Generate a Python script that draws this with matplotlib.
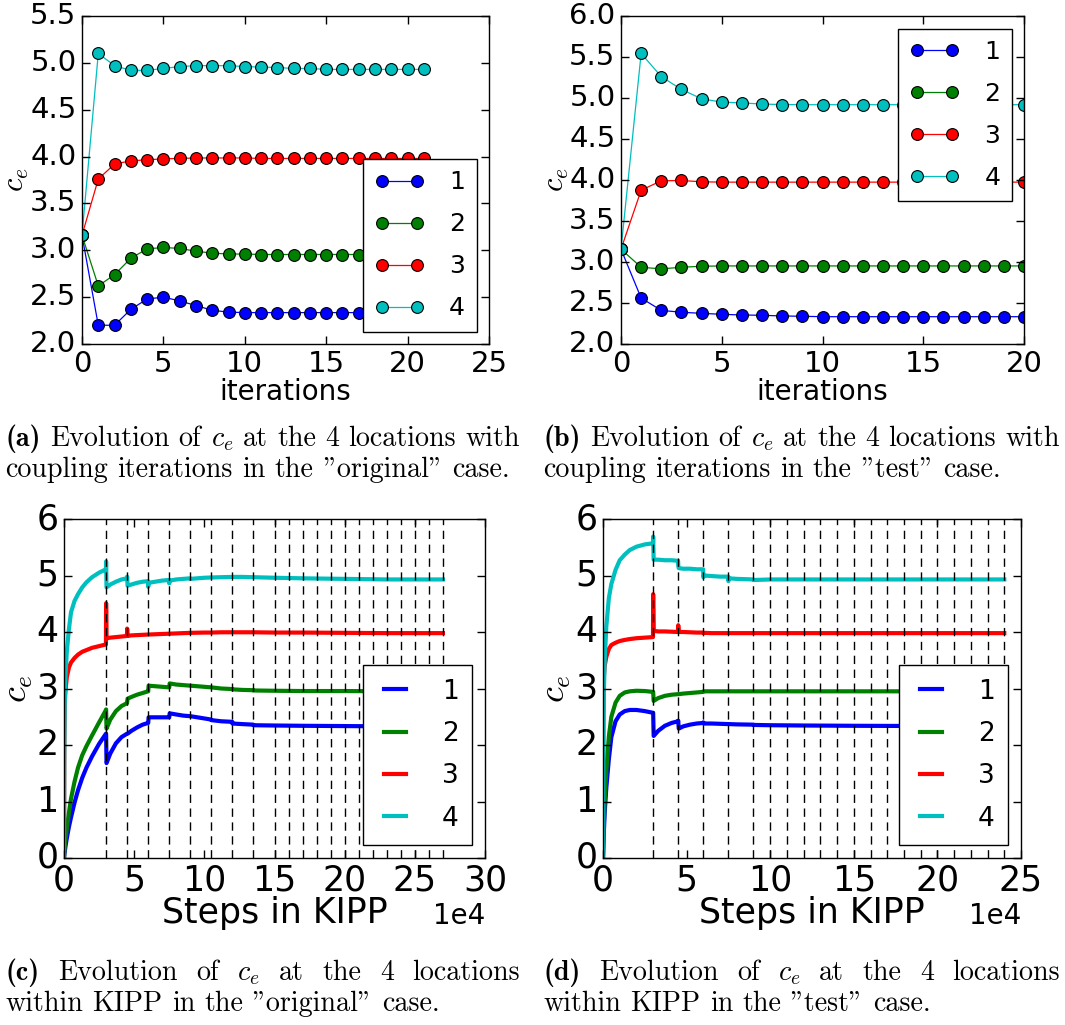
import matplotlib
matplotlib.use('Agg')
import matplotlib.pyplot as plt

plt.style.use('classic')
plt.rcParams['mathtext.fontset'] = 'cm'
plt.rcParams['savefig.facecolor'] = 'white'

W, H = 1065, 1025

labels = ['1', '2', '3', '4']
colors = ['b', 'g', 'r', 'c']

# --- coupling iterations, "original" case (a)
iters_orig = list(range(22))
orig_1 = [3.16, 2.20, 2.20, 2.37, 2.48, 2.50, 2.46, 2.41, 2.36, 2.34, 2.335, 2.335,
          2.335, 2.335, 2.335, 2.335, 2.335, 2.335, 2.33, 2.33, 2.33, 2.33]
orig_2 = [3.16, 2.62, 2.74, 2.915, 3.015, 3.03, 3.02, 2.99, 2.97, 2.96, 2.96, 2.955,
          2.955, 2.955, 2.955, 2.955, 2.955, 2.955, 2.95, 2.95, 2.95, 2.95]
orig_3 = [3.16, 3.76, 3.92, 3.955, 3.965, 3.976, 3.98, 3.985, 3.985, 3.985, 3.985, 3.98,
          3.98, 3.98, 3.98, 3.98, 3.98, 3.98, 3.98, 3.98, 3.98, 3.98]
orig_4 = [3.16, 5.10, 4.97, 4.92, 4.92, 4.94, 4.96, 4.97, 4.97, 4.97, 4.96, 4.955,
          4.95, 4.94, 4.94, 4.93, 4.93, 4.93, 4.93, 4.93, 4.93, 4.93]

# --- coupling iterations, "test" case (b)
iters_test = list(range(21))
test_1 = [3.156, 2.56, 2.41, 2.387, 2.374, 2.362, 2.354, 2.35, 2.342, 2.338, 2.333,
          2.333, 2.333, 2.333, 2.333, 2.333, 2.333, 2.333, 2.333, 2.333, 2.333]
test_2 = [3.156, 2.936, 2.916, 2.936, 2.948, 2.952, 2.952, 2.952, 2.952, 2.952, 2.952,
          2.952, 2.952, 2.952, 2.952, 2.952, 2.952, 2.952, 2.952, 2.952, 2.952]
test_3 = [3.156, 3.876, 3.99, 3.994, 3.978, 3.974, 3.974, 3.974, 3.974, 3.974, 3.974,
          3.974, 3.974, 3.974, 3.974, 3.974, 3.974, 3.974, 3.974, 3.974, 3.974]
test_4 = [3.156, 5.544, 5.26, 5.105, 4.99, 4.95, 4.94, 4.926, 4.92, 4.918, 4.918,
          4.918, 4.918, 4.918, 4.918, 4.918, 4.918, 4.918, 4.918, 4.918, 4.918]

# --- within KIPP, "original" case (c)
kipp_steps_orig = [0, 200, 500, 1000, 2000, 3500, 5000, 7500, 10000, 13000, 16000, 20000,
                   25000, 29900, 30000, 30300, 33000, 37000, 41000, 44900, 45000, 45300,
                   48000, 52000, 56000, 59900, 60000, 60300, 65000, 70000, 74900, 75000,
                   75300, 80000, 85000, 89900, 90000, 100000, 104900, 105000, 112000,
                   119900, 120000, 127000, 134900, 135000, 150000, 170000, 200000,
                   230000, 270000]
kipp_orig_1 = [0, 0.05, 0.1, 0.2, 0.35, 0.55, 0.72, 0.98, 1.2, 1.42, 1.6, 1.8,
               2.02, 2.2, 2.2, 1.68, 1.85, 2.03, 2.14, 2.2, 2.2, 2.2,
               2.25, 2.31, 2.36, 2.39, 2.39, 2.49, 2.49, 2.49, 2.49, 2.49,
               2.56, 2.54, 2.52, 2.51, 2.51, 2.47, 2.45, 2.44, 2.42,
               2.41, 2.38, 2.37, 2.36, 2.35, 2.345, 2.34, 2.335,
               2.33, 2.33]
kipp_orig_2 = [0, 0.1, 0.2, 0.32, 0.52, 0.8, 1.05, 1.35, 1.6, 1.82, 1.98, 2.17,
               2.4, 2.62, 2.63, 2.29, 2.45, 2.6, 2.69, 2.74, 2.76, 2.82,
               2.85, 2.89, 2.92, 2.95, 2.95, 3.05, 3.04, 3.03, 3.02, 3.02,
               3.09, 3.07, 3.06, 3.05, 3.05, 3.03, 3.02, 3.02, 3.0,
               2.99, 2.985, 2.975, 2.97, 2.965, 2.96, 2.955, 2.955,
               2.95, 2.95]
kipp_orig_3 = [0, 2.0, 2.75, 2.95, 3.2, 3.37, 3.46, 3.54, 3.6, 3.65, 3.68, 3.72,
               3.75, 3.78, 4.51, 3.89, 3.9, 3.91, 3.92, 3.93, 4.06, 3.93,
               3.94, 3.945, 3.95, 3.955, 3.955, 3.955, 3.96, 3.965, 3.97, 3.97,
               3.97, 3.975, 3.98, 3.985, 3.985, 3.99, 3.99, 3.99, 3.995,
               3.995, 3.995, 3.995, 3.995, 3.995, 3.99, 3.99, 3.985,
               3.98, 3.98]
kipp_orig_4 = [0, 1.8, 2.7, 3.2, 3.65, 4.05, 4.35, 4.55, 4.67, 4.79, 4.88, 4.97,
               5.05, 5.11, 5.25, 4.79, 4.84, 4.89, 4.93, 4.95, 4.98, 4.82,
               4.84, 4.87, 4.89, 4.9, 4.8, 4.87, 4.89, 4.91, 4.92, 4.86,
               4.91, 4.93, 4.94, 4.95, 4.94, 4.96, 4.965, 4.965, 4.97,
               4.975, 4.975, 4.975, 4.97, 4.97, 4.96, 4.95, 4.94,
               4.93, 4.93]
couplings_orig = [30000, 45000, 60000, 75000, 90000, 105000, 120000, 135000, 150000,
                  160000, 170000, 180000, 190000, 200000, 210000, 220000, 230000,
                  240000, 250000, 260000, 270000]

# --- within KIPP, "test" case (d)
kipp_steps_test = [0, 200, 500, 1000, 2000, 3500, 5000, 7500, 10000, 13000, 16000, 20000,
                   25000, 29900, 30000, 30300, 33000, 37000, 41000, 44900, 45000, 45300,
                   48000, 52000, 56000, 59900, 60000, 60300, 65000, 70000, 74900, 75000,
                   75300, 80000, 89900, 90000, 100000, 120000, 150000, 200000, 240000]
kipp_test_1 = [0, 0.2, 0.45, 0.8, 1.25, 1.75, 2.14, 2.42, 2.54, 2.6, 2.62, 2.62,
               2.6, 2.57, 2.57, 2.16, 2.25, 2.34, 2.39, 2.42, 2.43, 2.29,
               2.33, 2.36, 2.38, 2.39, 2.4, 2.38, 2.38, 2.375, 2.37, 2.37,
               2.37, 2.365, 2.36, 2.355, 2.35, 2.345, 2.34, 2.335, 2.33]
kipp_test_2 = [0, 0.25, 0.6, 1.0, 1.55, 2.15, 2.5, 2.75, 2.87, 2.93, 2.95, 2.96,
               2.955, 2.94, 2.94, 2.78, 2.83, 2.87, 2.89, 2.9, 2.9, 2.9,
               2.91, 2.92, 2.93, 2.94, 2.945, 2.95, 2.95, 2.95, 2.95, 2.95,
               2.95, 2.95, 2.95, 2.95, 2.95, 2.95, 2.95, 2.95, 2.95]
kipp_test_3 = [0, 2.5, 3.2, 3.4, 3.56, 3.7, 3.77, 3.81, 3.84, 3.86, 3.875, 3.89,
               3.9, 3.91, 4.67, 4.02, 4.01, 4.01, 4.005, 4.0, 4.12, 4.0,
               4.0, 3.995, 3.99, 3.99, 3.985, 3.985, 3.98, 3.98, 3.98, 3.98,
               3.98, 3.98, 3.98, 3.98, 3.98, 3.98, 3.98, 3.98, 3.98]
kipp_test_4 = [0, 2.0, 2.9, 3.5, 4.1, 4.6, 4.85, 5.1, 5.27, 5.37, 5.45, 5.51,
               5.55, 5.57, 5.69, 5.28, 5.28, 5.27, 5.27, 5.26, 5.18, 5.13,
               5.12, 5.12, 5.11, 5.11, 4.97, 5.0, 4.99, 4.98, 4.98, 4.9,
               4.95, 4.94, 4.93, 4.92, 4.93, 4.93, 4.93, 4.93, 4.93]
couplings_test = [30000, 45000, 60000, 75000, 90000, 100000, 110000, 120000, 130000,
                  140000, 150000, 160000, 170000, 180000, 190000, 200000, 210000,
                  220000, 230000, 240000]


def rect(l, t, r, b):
    return [l / W, 1 - b / H, (r - l) / W, (b - t) / H]


def style_axes(ax, tick_fs, pad):
    ax.tick_params(direction='in', length=6, width=1, labelsize=tick_fs, pad=pad)
    for s in ax.spines.values():
        s.set_linewidth(1)


fig = plt.figure(figsize=(W / 100, H / 100), dpi=100, facecolor='white')

# (a) and (b): coupling iterations
top = [
    (rect(82, 16, 489, 344), iters_orig, [orig_1, orig_2, orig_3, orig_4], 25, 5.5,
     'lower right', -0.125),
    (rect(621, 16, 1024, 344), iters_test, [test_1, test_2, test_3, test_4], 20, 6.0,
     'upper right', -0.125),
]
for r, xs, series, xmax, ymax, loc, ylx in top:
    ax = fig.add_axes(r)
    for ys, c, lab in zip(series, colors, labels):
        ax.plot(xs, ys, '-o', color=c, lw=0.9, ms=8.5, mec='k', mew=0.8, label=lab)
    ax.set_xlim(0, xmax)
    ax.set_ylim(2.0, ymax)
    ax.set_xticks(range(0, xmax + 1, 5))
    style_axes(ax, 21, 4)
    ax.set_xlabel('iterations', fontsize=20, labelpad=0)
    ax.set_ylabel(r'$c_e$', fontsize=22)
    ax.yaxis.set_label_coords(ylx, 0.5)
    ax.legend(loc=loc, fontsize=18, numpoints=2, handlelength=2.0, handletextpad=1.0,
              labelspacing=0.72, borderpad=0.45, fancybox=False)

# (c) and (d): within KIPP
bottom = [
    (rect(64, 519, 485, 858), kipp_steps_orig,
     [kipp_orig_1, kipp_orig_2, kipp_orig_3, kipp_orig_4], couplings_orig, 300000, -0.068),
    (rect(603, 519, 1021, 858), kipp_steps_test,
     [kipp_test_1, kipp_test_2, kipp_test_3, kipp_test_4], couplings_test, 250000, -0.072),
]
for r, xs, series, vlines, xmax, ylx in bottom:
    ax = fig.add_axes(r)
    for ys, c, lab in zip(series, colors, labels):
        ax.plot(xs, ys, '-', color=c, lw=3, label=lab)
    for v in vlines:
        ax.axvline(v, color='k', lw=1, ls=(0, (6, 4)))
    ax.set_xlim(0, xmax)
    ax.set_ylim(0, 6)
    ax.set_xticks(range(0, xmax + 1, 50000))
    ax.set_yticks(range(0, 7))
    ax.ticklabel_format(axis='x', style='sci', scilimits=(4, 4))
    style_axes(ax, 25, 4)
    ax.xaxis.get_offset_text().set_fontsize(20)
    ax.set_xlabel('Steps in KIPP', fontsize=25, labelpad=-1)
    ax.set_ylabel(r'$c_e$', fontsize=26)
    ax.yaxis.set_label_coords(ylx, 0.5)
    ax.legend(loc='lower right', fontsize=19, handlelength=1.45, handletextpad=1.05,
              labelspacing=0.62, borderpad=0.5, fancybox=False)

# captions, set word by word like LaTeX (first line justified)
renderer = fig.canvas.get_renderer()


def caption_line(words, x0, y, size, x1=None):
    arts = []
    for w in words:
        bold = w.startswith('(') and w.endswith(')') and len(w) == 3
        t = fig.text(0, 1 - y / H, w, fontsize=size, va='baseline', ha='left',
                     family='cmb10' if bold else 'cmr10')
        arts.append(t)
    widths = [a.get_window_extent(renderer).width for a in arts]
    space = 0.333 * size * 100 / 72
    natural = sum(widths) + space * (len(arts) - 1)
    gap = space
    if x1 is not None and len(arts) > 1:
        gap = max(space, (x1 - x0 - sum(widths)) / (len(arts) - 1))
    x = x0
    for a, wd in zip(arts, widths):
        a.set_x(x / W)
        x += wd + gap
    return arts, natural


captions = [
    (5, 520, 446, '(a) Evolution of $c_e$ at the 4 locations with',
     'coupling iterations in the "original" case.'),
    (543, 1060, 446, '(b) Evolution of $c_e$ at the 4 locations with',
     'coupling iterations in the "test" case.'),
    (5, 520, 980, '(c) Evolution of $c_e$ at the 4 locations',
     'within KIPP in the "original" case.'),
    (543, 1060, 980, '(d) Evolution of $c_e$ at the 4 locations',
     'within KIPP in the "test" case.'),
]

# the first caption line of (a) fills its column: size the caption font from it
probe, nat = caption_line(captions[0][3].split(' '), 0, 0, 16)
for p in probe:
    p.remove()
cap_fs = 16 * (captions[0][1] - captions[0][0]) / nat

for x0, x1, y, line1, line2 in captions:
    caption_line(line1.split(' '), x0, y, cap_fs, x1)
    caption_line(line2.split(' '), x0, y + 31, cap_fs)

fig.savefig('out.png', dpi=100, facecolor='white')
